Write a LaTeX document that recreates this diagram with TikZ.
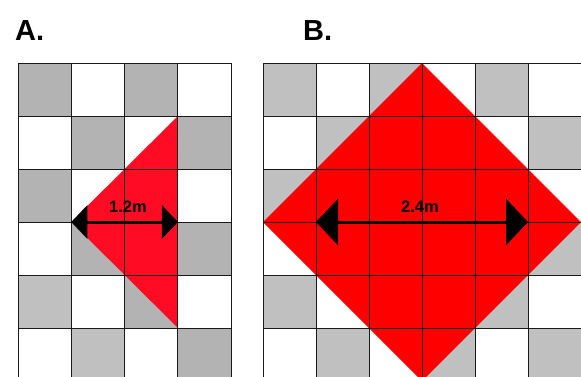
\documentclass[tikz,border=0pt]{standalone}
\usepackage{fontspec}
\setmainfont{Liberation Sans}
\usetikzlibrary{arrows.meta}
\definecolor{gA}{RGB}{179,179,179}
\definecolor{gL}{RGB}{192,192,192}
\definecolor{redA}{RGB}{255,12,36}
\definecolor{redB}{RGB}{255,0,0}
\begin{document}
\begin{tikzpicture}[x=1pt,y=-1pt,
  gridline/.style={draw=black!90,line width=1pt},
  dimA/.style={line width=3pt,{Triangle[length=16pt,width=33pt]}-{Triangle[length=16pt,width=33pt]}},
  dimB/.style={line width=3pt,{Triangle[length=22pt,width=46pt]}-{Triangle[length=22pt,width=46pt]}},
  paneltitle/.style={font=\fontsize{29}{32}\selectfont\bfseries,inner sep=0pt,anchor=base west},
  dimlabel/.style={font=\fontsize{16.5}{18}\selectfont\bfseries,inner sep=0pt}]
\useasboundingbox (0,0) rectangle (581,376);
\fill[white] (0,0) rectangle (581,376);
\begin{scope}
\clip (0,0) rectangle (581,376);
% panel A cells
\foreach \r in {0,...,5}{
  \foreach \c in {0,...,3}{
    \pgfmathtruncatemacro\p{mod(\r+\c,2)}
    \ifnum\p=0 \fill[gA] (18+53.3*\c,63+53*\r) rectangle ++(53.3,53); \fi
  }
}
\fill[gL] (18,275) rectangle ++(53.3,53);
\fill[gL] (71.3,328) rectangle ++(53.3,53);
% panel B cells
\foreach \r in {0,...,5}{
  \foreach \c in {0,...,5}{
    \pgfmathtruncatemacro\p{mod(\r+\c,2)}
    \ifnum\p=0 \fill[gL] (263+53*\c,63+53*\r) rectangle ++(53,53); \fi
  }
}
% red shapes
\fill[redA] (177.9,116) -- (177.9,328) -- (71.3,222) -- cycle;
\fill[redB] (422,63) -- (581,222) -- (422,381) -- (263,222) -- cycle;
% grid lines A
\foreach \c in {0,...,4}{ \draw[gridline] (18+53.3*\c,63) -- (18+53.3*\c,381); }
\foreach \r in {0,...,5}{ \draw[gridline] (18,63+53*\r) -- (231.2,63+53*\r); }
% grid lines B
\foreach \c in {0,...,6}{ \draw[gridline] (263+53*\c,63) -- (263+53*\c,381); }
\foreach \r in {0,...,5}{ \draw[gridline] (263,63+53*\r) -- (581,63+53*\r); }
\end{scope}
% titles
\node[paneltitle] (ta) at (15,40) {A.};
\node[paneltitle] (tb) at (303,40) {B.};
% dimension arrows
\coordinate (a1) at (71.3,222);
\coordinate (a2) at (177.9,222);
\coordinate (b1) at (316,222);
\coordinate (b2) at (528,222);
\draw[dimA] (a1) -- (a2);
\draw[dimB] (b1) -- (b2);
\node[dimlabel] (la) at (128,207) {1.2m};
\node[dimlabel] (lb) at (420,207) {2.4m};
\end{tikzpicture}
\end{document}
